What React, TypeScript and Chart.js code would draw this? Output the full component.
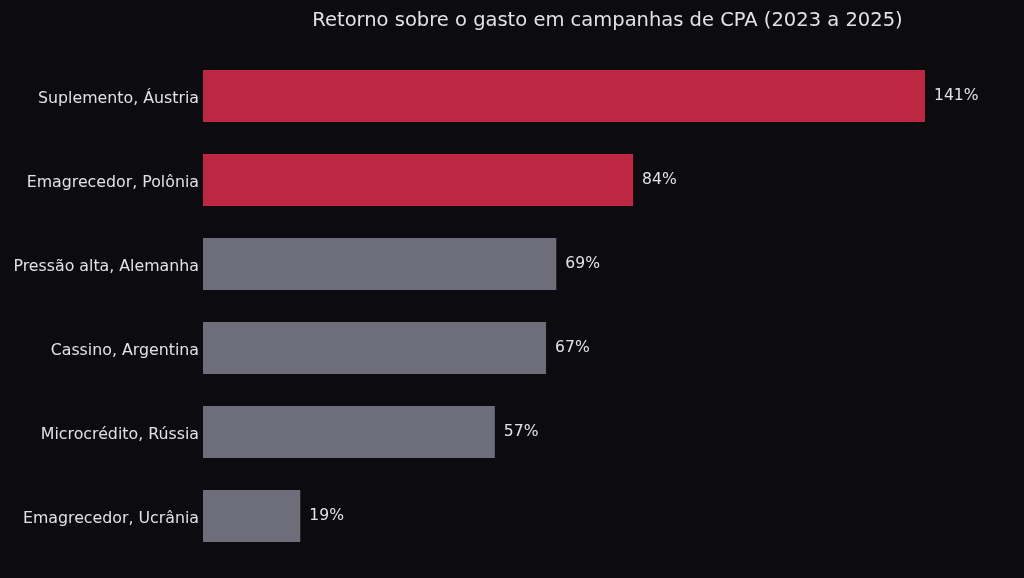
import React, { useEffect, useRef } from "react";
import { Chart, registerables, Plugin } from "chart.js";

Chart.register(...registerables);

const categories = [
  "Suplemento, Áustria",
  "Emagrecedor, Polônia",
  "Pressão alta, Alemanha",
  "Cassino, Argentina",
  "Microcrédito, Rússia",
  "Emagrecedor, Ucrânia",
];
const roiValues = [141, 84, 69, 67, 57, 19];
const highlighted = [true, true, false, false, false, false];
const chartTitle = "Retorno sobre o gasto em campanhas de CPA (2023 a 2025)";

const BG = "#0c0c10";
const RED = "#be2742";
const GRAY = "#6e6e7a";
const TEXT = "#e2e2e6";
const FONT = "'DejaVu Sans', sans-serif";

// title centered over the plot area + value labels at the bar ends
const overlay: Plugin<"bar"> = {
  id: "overlay",
  afterDatasetsDraw(chart) {
    const { ctx, chartArea } = chart;
    ctx.save();
    ctx.fillStyle = TEXT;
    ctx.font = `19.5px ${FONT}`;
    ctx.textAlign = "center";
    ctx.textBaseline = "middle";
    ctx.fillText(chartTitle, (chartArea.left + chartArea.right) / 2, 21);

    ctx.font = `15.6px ${FONT}`;
    ctx.textAlign = "left";
    const meta = chart.getDatasetMeta(0);
    meta.data.forEach((bar: any, i) => {
      ctx.fillText(`${roiValues[i]}%`, bar.x + 9, bar.y);
    });
    ctx.restore();
  },
};

const App: React.FC = () => {
  const canvasRef = useRef<HTMLCanvasElement | null>(null);
  const chartRef = useRef<Chart | null>(null);

  useEffect(() => {
    if (chartRef.current) {
      chartRef.current.destroy();
    }
    if (!canvasRef.current) return;

    chartRef.current = new Chart(canvasRef.current, {
      type: "bar",
      data: {
        labels: categories,
        datasets: [
          {
            data: roiValues,
            backgroundColor: highlighted.map((h) => (h ? RED : GRAY)),
            barPercentage: 0.62,
            categoryPercentage: 1,
          },
        ],
      },
      options: {
        indexAxis: "y",
        responsive: true,
        maintainAspectRatio: false,
        animation: false,
        layout: { padding: { top: 54, bottom: 20, left: 0, right: 12 } },
        plugins: {
          legend: { display: false },
          tooltip: { enabled: false },
          title: { display: false },
        },
        scales: {
          x: {
            min: 0,
            max: 158,
            display: false,
          },
          y: {
            grid: { display: false, drawTicks: false },
            border: { display: false },
            ticks: {
              color: TEXT,
              font: { family: FONT, size: 15.8 },
              padding: 4,
              labelOffset: 2.5,
            },
            afterFit(scale: any) {
              scale.width = 203;
            },
          },
        },
      },
      plugins: [overlay],
    });

    return () => {
      if (chartRef.current) {
        chartRef.current.destroy();
        chartRef.current = null;
      }
    };
  }, []);

  return (
    <div
      style={{
        position: "fixed",
        left: 0,
        top: 0,
        width: "1024px",
        height: "578px",
        background: BG,
      }}
    >
      <canvas ref={canvasRef}></canvas>
    </div>
  );
};

export default App;
